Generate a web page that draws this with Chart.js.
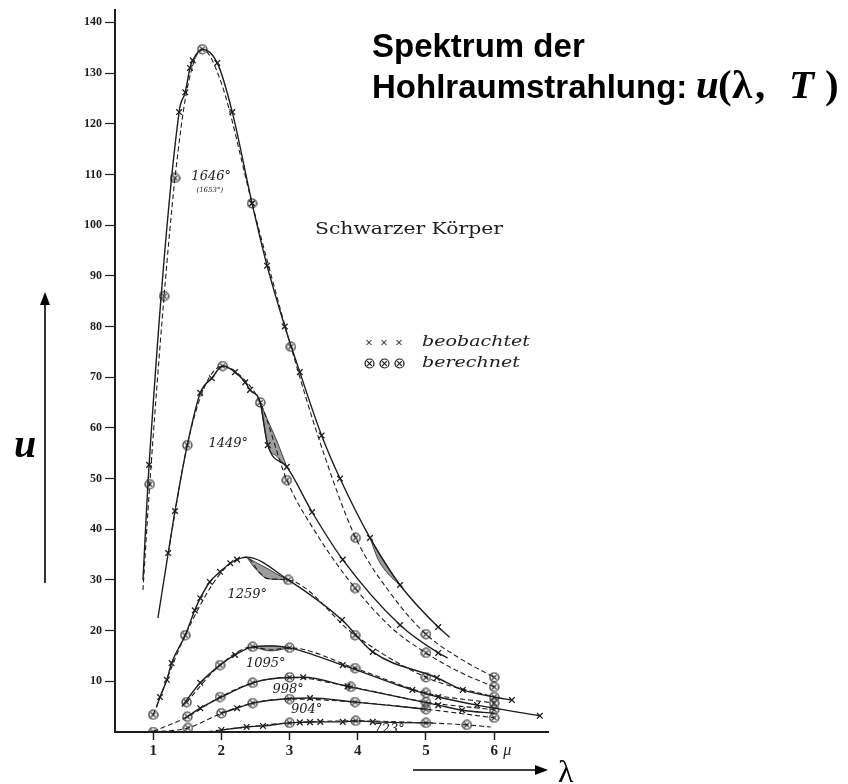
<!DOCTYPE html>
<html>
<head>
<meta charset="utf-8">
<script src="https://cdn.jsdelivr.net/npm/chart.js@4.4.1/dist/chart.umd.min.js"></script>
<style>
    body { margin: 0; background: #fff; }
    #wrap { width: 848px; height: 784px; }
</style>
</head>
<body>
<div id="wrap"><canvas id="spektrum" width="848" height="784"></canvas></div>
<script>
// --- Data: [lambda (µ), u]; a third entry 0 = no marker on that point ---
const xTicks = [1, 2, 3, 4, 5, 6];
const yTicks = [10, 20, 30, 40, 50, 60, 70, 80, 90, 100, 110, 120, 130, 140];
const temperatures = ['1646°', '1449°', '1259°', '1095°', '998°', '904°', '723°'];

// beobachtet (observed, solid line, crosses)
const obs1646 = [[0.85,30,0],[0.94,52.7],[1.38,122.3],[1.47,126.2],[1.54,131],[1.58,132.5],[1.72,134.7,0],[1.94,132],[2.16,122.3],[2.45,104.3],[2.67,92],[2.93,80],[3.15,71],[3.47,58.5],[3.74,50],[4.18,38.3],[4.62,29],[5.18,20.7],[5.35,18.7,0]];
const obs1449 = [[1.07,22.5,0],[1.22,35.3],[1.32,43.6],[1.5,56.6,0],[1.69,66.9],[1.86,69.8],[2.02,72.2,0],[2.2,71],[2.35,69],[2.42,67.5],[2.57,65,0],[2.68,56.6],[2.96,52.3],[3.33,43.4],[3.78,34],[4.62,21.1],[5.18,15.6],[5.32,14.6,0]];
const obs1259 = [[1.05,5.0,0],[1.1,6.9],[1.2,10.3],[1.27,13.6],[1.47,19.1,0],[1.61,24],[1.69,26.4],[1.83,29.6],[1.98,31.6],[2.13,33.3],[2.23,34],[2.37,34.5,0],[2.98,30,0],[3.77,22.1],[4.22,15.8],[5.16,10.7],[5.54,8.3],[6.0,6.9,0],[6.26,6.3]];
const obs1095 = [[1.42,5.0,0],[1.69,9.7],[1.98,13.2,0],[2.2,15.2],[2.46,16.8,0],[2.75,17.0,0],[3.0,16.6,0],[3.78,13.2],[4.8,8.3],[5.18,6.9],[5.75,5.3],[6.67,3.2]];
const obs998 = [[1.5,3.0,0],[1.69,4.7],[2.0,6.9,0],[2.46,9.7,0],[2.75,10.5,0],[3.2,10.8],[3.85,9.0],[5.18,5.3],[5.53,4.3],[6.0,3.7,0]];
const obs904 = [[2.0,3.7,0],[2.23,4.7],[2.46,5.7,0],[3.0,6.6,0],[3.3,6.7],[3.96,5.9,0],[4.5,5.2,0],[5.0,4.5,0]];
const obs723 = [[2.0,0.4],[2.37,1.0],[2.61,1.2],[3.0,1.8,0],[3.15,1.9],[3.3,1.95],[3.45,2.0],[3.78,2.0],[3.97,2.2,0],[4.22,2.0],[5.0,1.8,0],[5.1,1.8,0]];

// berechnet (calculated, dashed line, circles)
const calc1646 = [[0.85,28,0],[0.95,48.9],[1.16,86],[1.32,109.3],[1.5,127,0],[1.72,134.7],[2.0,128,0],[2.45,104.3],[3.02,76],[3.5,55,0],[3.97,38.3],[4.5,27,0],[5.0,19.3],[5.5,14.5,0],[6.0,10.8]];
const calc1449 = [[1.22,35.3,0],[1.5,56.6],[1.75,68,0],[2.02,72.2],[2.3,70,0],[2.57,65],[2.96,49.7],[3.4,39,0],[3.96,28.4],[4.5,20.5,0],[5.0,15.6],[5.5,11.8,0],[6.0,8.9]];
const calc1259 = [[1.0,3.4],[1.47,19.1],[2.0,31.5,0],[2.37,34.5,0],[2.55,31.6,0],[2.67,30.3,0],[2.98,30],[3.96,19.1],[5.0,10.8],[6.0,6.9]];
const calc1095 = [[1.49,5.9],[1.98,13.2],[2.46,16.8],[2.72,16.2,0],[3.0,16.6],[3.96,12.6],[5.0,7.7],[6.0,5.7]];
const calc998 = [[1.0,0.1,0],[1.5,3.0],[1.98,6.9],[2.46,9.7],[3.0,10.8],[3.9,8.9],[5.0,5.9],[6.0,4.4]];
const calc904 = [[1.0,0],[1.51,0.8],[2.0,3.7],[2.46,5.7],[3.0,6.5],[3.96,5.9],[5.0,4.5],[6.0,2.8]];
const calc723 = [[1.8,0.1,0],[3.0,1.8],[3.97,2.2],[5.0,1.8],[5.6,1.4],[5.95,1.0,0]];

// hatched differences between observed and calculated
const shade1646Hi = [[4.18,38.3],[4.3,35.6],[4.46,32.2],[4.62,29]];
const shade1646Lo = [[4.18,38.3],[4.3,34.0],[4.46,31.0],[4.62,29]];
const shade1449Hi = [[2.57,65],[2.68,61.5],[2.82,57.2],[2.96,52.3]];
const shade1449Lo = [[2.57,65],[2.68,56.6],[2.82,54.3],[2.96,52.3]];
const shade1259Hi = [[2.37,34.5],[2.5,33.5],[2.67,32.3],[2.82,31.1],[2.98,30]];
const shade1259Lo = [[2.37,34.5],[2.5,32.2],[2.67,30.3],[2.82,30.1],[2.98,30]];
const shade1095Hi = [[2.46,16.8],[2.72,17.0],[3.0,16.6]];
const shade1095Lo = [[2.46,16.8],[2.72,16.0],[3.0,16.6]];

const INK = '#1e1e1e';

// circle with a cross inside, used for the calculated points
function makeOtimes(size) {
    const c = document.createElement('canvas');
    c.width = size; c.height = size;
    const g = c.getContext('2d');
    const r = size / 2;
    g.strokeStyle = INK;
    g.lineWidth = 1.2;
    g.beginPath();
    g.arc(r, r, r - 1, 0, Math.PI * 2);
    g.stroke();
    g.beginPath();
    g.moveTo(r - 2.3, r - 2.3); g.lineTo(r + 2.3, r + 2.3);
    g.moveTo(r + 2.3, r - 2.3); g.lineTo(r - 2.3, r + 2.3);
    g.stroke();
    return c;
}
const otimesImg = makeOtimes(11);

function toPoints(list) {
    return list.map(p => ({ x: p[0], y: p[1], m: p.length < 3 }));
}

function curve(label, list, calc) {
    return {
        label: label,
        data: toPoints(list),
        borderColor: INK,
        borderWidth: calc ? 1.1 : 1.4,
        borderDash: calc ? [5, 3] : [],
        pointStyle: calc ? otimesImg : 'crossRot',
        pointRadius: ctx => (ctx.raw && ctx.raw.m ? 4 : 0),
        pointBorderColor: INK,
        pointBorderWidth: 1.3,
        pointBackgroundColor: 'rgba(0,0,0,0)',
        cubicInterpolationMode: 'monotone',
        fill: false
    };
}

function shade(hi, lo) {
    const common = { borderColor: INK, borderWidth: 0.8, pointRadius: 0, cubicInterpolationMode: 'monotone' };
    return [
        Object.assign({ data: toPoints(hi), fill: '+1', backgroundColor: 'rgba(60,60,60,0.5)' }, common),
        Object.assign({ data: toPoints(lo), fill: false }, common)
    ];
}

const datasets = [
    curve('1646 beobachtet', obs1646, false), curve('1646 berechnet', calc1646, true),
    curve('1449 beobachtet', obs1449, false), curve('1449 berechnet', calc1449, true),
    curve('1259 beobachtet', obs1259, false), curve('1259 berechnet', calc1259, true),
    curve('1095 beobachtet', obs1095, false), curve('1095 berechnet', calc1095, true),
    curve('998 beobachtet', obs998, false), curve('998 berechnet', calc998, true),
    curve('904 beobachtet', obs904, false), curve('904 berechnet', calc904, true),
    curve('723 beobachtet', obs723, false), curve('723 berechnet', calc723, true)
].concat(shade(shade1646Hi, shade1646Lo), shade(shade1449Hi, shade1449Lo),
         shade(shade1259Hi, shade1259Lo), shade(shade1095Hi, shade1095Lo));

// --- Texts, arrows and the little legend drawn on top ---
function arrow(ctx, x1, y1, x2, y2) {
    const a = Math.atan2(y2 - y1, x2 - x1);
    ctx.beginPath();
    ctx.moveTo(x1, y1);
    ctx.lineTo(x2 - 10 * Math.cos(a), y2 - 10 * Math.sin(a));
    ctx.stroke();
    ctx.beginPath();
    ctx.moveTo(x2, y2);
    ctx.lineTo(x2 - 13 * Math.cos(a) + 5 * Math.sin(a), y2 - 13 * Math.sin(a) - 5 * Math.cos(a));
    ctx.lineTo(x2 - 13 * Math.cos(a) - 5 * Math.sin(a), y2 - 13 * Math.sin(a) + 5 * Math.cos(a));
    ctx.closePath();
    ctx.fill();
}

function fitText(ctx, text, x, y, width) {
    const w = ctx.measureText(text).width;
    ctx.save();
    ctx.translate(x, y);
    ctx.scale(width / w, 1);
    ctx.fillText(text, 0, 0);
    ctx.restore();
}

const labelPlugin = {
    id: 'plateText',
    afterDraw(chart) {
        const ctx = chart.ctx;
        const xs = chart.scales.x, ys = chart.scales.y;
        ctx.save();
        ctx.fillStyle = INK;
        ctx.strokeStyle = INK;
        ctx.textBaseline = 'alphabetic';

        // title
        ctx.fillStyle = '#000';
        ctx.font = 'bold 33px "Liberation Sans", Arial, sans-serif';
        ctx.fillText('Spektrum der', 372, 57);
        ctx.fillText('Hohlraumstrahlung:', 372, 98);
        ctx.font = 'bold italic 41px "Liberation Serif", "Times New Roman", serif';
        ctx.fillText('u', 696, 98);
        ctx.fillText('T', 789, 98);
        ctx.font = 'bold 41px "Liberation Serif", "Times New Roman", serif';
        ctx.fillText('(', 718, 98);
        ctx.fillText('λ', 732, 98);
        ctx.fillText(',', 755, 98);
        ctx.fillText(')', 825, 98);

        // axis letters and arrows
        ctx.font = 'bold italic 40px "Liberation Serif", serif';
        ctx.fillText('u', 14, 457);
        ctx.font = '32px "Liberation Serif", serif';
        ctx.fillText('λ', 558, 782);
        ctx.lineWidth = 1.6;
        ctx.strokeStyle = '#000';
        arrow(ctx, 45, 583, 45, 292);
        arrow(ctx, 413, 770, 548, 770);

        // µ next to the last tick
        ctx.fillStyle = INK;
        ctx.font = 'italic 16px "Liberation Serif", serif';
        ctx.fillText('μ', xs.getPixelForValue(6) + 9, 755);

        // plate caption and legend
        ctx.font = '17px "DejaVu Serif", serif';
        fitText(ctx, 'Schwarzer Körper', 315, 234, 188);
        ctx.font = 'italic 15px "DejaVu Serif", serif';
        fitText(ctx, 'beobachtet', 422, 346, 108);
        fitText(ctx, 'berechnet', 422, 367, 98);
        ctx.lineWidth = 1;
        [369, 384, 399].forEach(x => {
            ctx.beginPath();
            ctx.moveTo(x - 2.5, 340); ctx.lineTo(x + 2.5, 345);
            ctx.moveTo(x + 2.5, 340); ctx.lineTo(x - 2.5, 345);
            ctx.stroke();
            ctx.drawImage(otimesImg, x - 5, 358);
        });

        // temperature labels
        const tempAt = [[1.85, 108.9], [2.10, 56.2], [2.38, 26.4], [2.65, 12.8], [2.98, 7.7], [3.25, 3.75], [4.46, -0.2]];
        ctx.font = 'italic 13px "DejaVu Serif", serif';
        ctx.textAlign = 'center';
        temperatures.forEach((t, i) => {
            ctx.fillText(t, xs.getPixelForValue(tempAt[i][0]), ys.getPixelForValue(tempAt[i][1]));
        });
        ctx.font = 'italic 7px "DejaVu Serif", serif';
        ctx.fillText('(1653°)', xs.getPixelForValue(1.83), ys.getPixelForValue(106.6));
        ctx.restore();
    }
};

new Chart(document.getElementById('spektrum'), {
    type: 'line',
    data: { datasets: datasets },
    options: {
        responsive: false,
        animation: false,
        events: [],
        layout: { padding: { left: 0, right: 300, top: 10, bottom: 0 } },
        plugins: {
            legend: { display: false },
            tooltip: { enabled: false }
        },
        scales: {
            x: {
                type: 'linear',
                min: 0.44,
                max: 6.79,
                afterBuildTicks: s => { s.ticks = xTicks.map(v => ({ value: v })); },
                afterFit: s => { s.height = 52; },
                grid: { drawOnChartArea: false, drawTicks: true, tickLength: 8, tickColor: INK, tickWidth: 1.5 },
                border: { display: true, color: INK, width: 2 },
                ticks: {
                    color: INK,
                    padding: 2,
                    maxRotation: 0,
                    autoSkip: false,
                    font: { family: '"Liberation Serif", serif', size: 15, weight: 'bold' },
                    callback: v => String(v)
                }
            },
            y: {
                min: 0,
                max: 142.4,
                afterBuildTicks: s => { s.ticks = yTicks.map(v => ({ value: v })); },
                afterFit: s => { s.width = 115; },
                grid: { drawOnChartArea: false, drawTicks: true, tickLength: 10, tickColor: INK, tickWidth: 1.2 },
                border: { display: true, color: INK, width: 2 },
                ticks: {
                    color: INK,
                    padding: 3,
                    autoSkip: false,
                    font: { family: '"Liberation Serif", serif', size: 12, weight: 'bold' },
                    callback: v => String(v)
                }
            }
        }
    },
    plugins: [labelPlugin]
});
</script>
</body>
</html>
